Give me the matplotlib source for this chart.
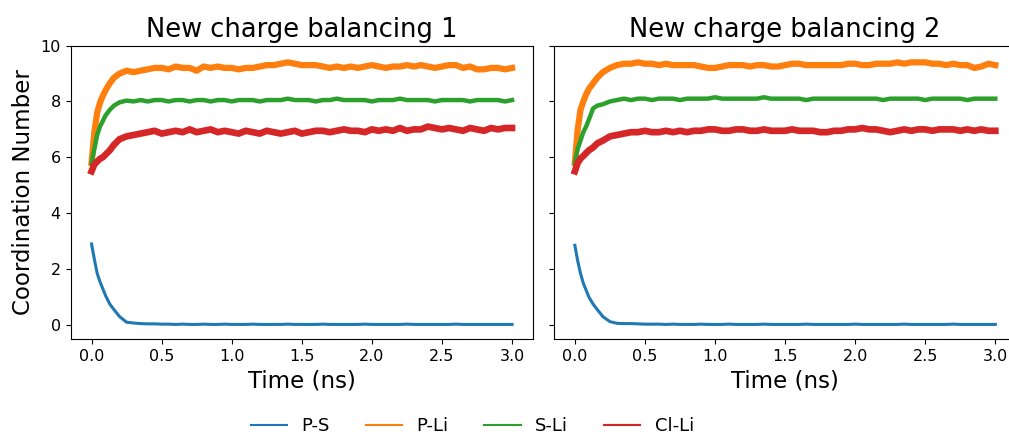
import numpy as np
import matplotlib.pyplot as plt

# time grid (ns): dense at the start, then every 0.05 ns
t_early = [0.0, 0.02, 0.04, 0.06, 0.08, 0.10, 0.13, 0.16, 0.20, 0.25, 0.30]
t_late = np.round(np.arange(0.35, 3.001, 0.05), 2)
time = np.concatenate([t_early, t_late])

labels = ["P-S", "P-Li", "S-Li", "Cl-Li"]
titles = ["New charge balancing 1", "New charge balancing 2"]

# ---- New charge balancing 1 ----
ps_1 = [2.9, 2.35, 1.85, 1.55, 1.3, 1.05, 0.75, 0.55, 0.3, 0.1, 0.07,
        0.05, 0.04, 0.04, 0.03, 0.03, 0.02, 0.03, 0.02, 0.02, 0.03,
        0.02, 0.02, 0.03, 0.02, 0.02, 0.02, 0.03, 0.02, 0.02, 0.02,
        0.02, 0.03, 0.02, 0.02, 0.02, 0.02, 0.03, 0.02, 0.02, 0.02,
        0.02, 0.02, 0.03, 0.02, 0.02, 0.02, 0.02, 0.02, 0.03, 0.02,
        0.02, 0.02, 0.02, 0.02, 0.02, 0.03, 0.02, 0.02, 0.02, 0.02,
        0.02, 0.02, 0.02, 0.02]
pli_1 = [5.8, 6.9, 7.6, 7.95, 8.2, 8.4, 8.65, 8.85, 9.0, 9.1, 9.05,
         9.1, 9.15, 9.2, 9.2, 9.15, 9.25, 9.2, 9.2, 9.1, 9.25,
         9.2, 9.25, 9.2, 9.2, 9.15, 9.2, 9.2, 9.25, 9.3, 9.3,
         9.35, 9.4, 9.35, 9.3, 9.3, 9.3, 9.25, 9.2, 9.25, 9.2,
         9.25, 9.2, 9.25, 9.3, 9.25, 9.2, 9.25, 9.25, 9.3, 9.25,
         9.3, 9.25, 9.2, 9.25, 9.3, 9.3, 9.2, 9.25, 9.15, 9.15,
         9.2, 9.2, 9.15, 9.2]
sli_1 = [5.8, 6.3, 6.8, 7.1, 7.3, 7.5, 7.7, 7.85, 7.97, 8.03, 8.0,
         8.05, 8.0, 8.05, 8.05, 8.0, 8.05, 8.05, 8.0, 8.05, 8.05,
         8.0, 8.05, 8.05, 8.0, 8.05, 8.05, 8.05, 8.0, 8.05, 8.05,
         8.05, 8.1, 8.05, 8.05, 8.05, 8.0, 8.05, 8.05, 8.1, 8.05,
         8.05, 8.05, 8.05, 8.0, 8.05, 8.05, 8.05, 8.1, 8.05, 8.05,
         8.05, 8.05, 8.0, 8.05, 8.05, 8.05, 8.05, 8.0, 8.05, 8.05,
         8.05, 8.05, 8.0, 8.05]
clli_1 = [5.5, 5.75, 5.85, 5.95, 6.0, 6.1, 6.25, 6.45, 6.65, 6.75, 6.8,
          6.85, 6.9, 6.95, 6.85, 6.9, 6.95, 6.9, 7.0, 6.9, 6.95,
          7.0, 6.9, 6.95, 6.9, 6.85, 6.95, 6.9, 6.85, 6.95, 6.9,
          6.85, 6.9, 6.95, 6.85, 6.9, 6.95, 6.95, 6.9, 6.95, 7.0,
          6.95, 6.95, 6.9, 7.0, 6.95, 7.0, 6.95, 7.05, 6.95, 7.0,
          7.0, 7.1, 7.05, 7.0, 7.05, 7.0, 6.95, 7.05, 7.0, 6.95,
          7.05, 7.0, 7.05, 7.05]

# ---- New charge balancing 2 ----
ps_2 = [2.85, 2.3, 1.85, 1.5, 1.25, 1.0, 0.75, 0.55, 0.3, 0.12, 0.06,
        0.05, 0.05, 0.04, 0.03, 0.03, 0.03, 0.02, 0.03, 0.02, 0.02,
        0.02, 0.03, 0.02, 0.02, 0.02, 0.03, 0.02, 0.02, 0.02, 0.02,
        0.03, 0.02, 0.02, 0.02, 0.02, 0.02, 0.03, 0.02, 0.02, 0.02,
        0.02, 0.02, 0.02, 0.03, 0.02, 0.02, 0.02, 0.02, 0.02, 0.02,
        0.03, 0.02, 0.02, 0.02, 0.02, 0.02, 0.02, 0.03, 0.02, 0.02,
        0.02, 0.02, 0.02, 0.02]
pli_2 = [5.8, 7.0, 7.7, 8.0, 8.25, 8.45, 8.65, 8.85, 9.05, 9.2, 9.3,
         9.35, 9.35, 9.4, 9.35, 9.35, 9.3, 9.35, 9.3, 9.3, 9.3,
         9.3, 9.25, 9.2, 9.2, 9.25, 9.3, 9.3, 9.3, 9.25, 9.3,
         9.3, 9.25, 9.25, 9.3, 9.35, 9.35, 9.3, 9.3, 9.3, 9.3,
         9.3, 9.3, 9.35, 9.35, 9.3, 9.3, 9.35, 9.35, 9.35, 9.4,
         9.35, 9.4, 9.4, 9.4, 9.35, 9.35, 9.3, 9.35, 9.3, 9.3,
         9.2, 9.25, 9.35, 9.3]
sli_2 = [5.8, 6.3, 6.6, 6.9, 7.1, 7.35, 7.75, 7.85, 7.9, 8.0, 8.05,
         8.1, 8.05, 8.1, 8.1, 8.05, 8.1, 8.1, 8.1, 8.05, 8.1,
         8.1, 8.1, 8.1, 8.15, 8.1, 8.1, 8.1, 8.1, 8.1, 8.1,
         8.15, 8.1, 8.1, 8.1, 8.1, 8.1, 8.05, 8.1, 8.1, 8.1,
         8.1, 8.1, 8.1, 8.1, 8.1, 8.1, 8.1, 8.05, 8.1, 8.1,
         8.1, 8.1, 8.1, 8.05, 8.1, 8.1, 8.1, 8.1, 8.1, 8.05,
         8.1, 8.1, 8.1, 8.1]
clli_2 = [5.5, 5.8, 5.95, 6.05, 6.15, 6.25, 6.35, 6.5, 6.6, 6.75, 6.8,
          6.85, 6.9, 6.9, 6.95, 6.9, 6.9, 6.95, 6.9, 6.95, 6.9,
          6.95, 6.95, 7.0, 7.0, 6.95, 6.95, 7.0, 7.0, 6.95, 6.95,
          7.0, 6.95, 6.95, 6.95, 7.0, 6.95, 6.95, 6.95, 6.9, 6.9,
          6.95, 6.95, 7.0, 7.0, 7.05, 7.0, 7.0, 6.95, 6.9, 6.95,
          7.0, 6.95, 7.0, 7.0, 6.95, 7.0, 7.0, 7.0, 6.95, 7.0,
          6.95, 7.0, 6.95, 6.95]

panels = [[ps_1, pli_1, sli_1, clli_1], [ps_2, pli_2, sli_2, clli_2]]
colors = ["tab:blue", "tab:orange", "tab:green", "tab:red"]
widths = [2.2, 4.5, 3.2, 4.8]  # thick lines stand in for the MD noise band

fig = plt.figure(figsize=(10.09, 4.34), dpi=100)
ax1 = fig.add_axes([0.0699, 0.219, 0.4584, 0.676])
ax2 = fig.add_axes([0.5489, 0.219, 0.4584, 0.676], sharey=ax1)

for ax, series, title in zip([ax1, ax2], panels, titles):
    for y, c, lw, lab in zip(series, colors, widths, labels):
        ax.plot(time, y, color=c, lw=lw, label=lab)
    ax.set_title(title, fontsize=18.5)
    ax.set_xlabel("Time (ns)", fontsize=16.5)
    ax.set_xticks(np.arange(0, 3.01, 0.5))
    ax.tick_params(labelsize=11.5)

ax1.set_ylim(-0.5, 10)
ax1.set_yticks([0, 2, 4, 6, 8, 10])
ax1.set_ylabel("Coordination Number", fontsize=16.5)
ax2.tick_params(labelleft=False)

handles, labs = ax1.get_legend_handles_labels()
leg = fig.legend(handles, labs, loc="lower center", ncol=4, frameon=False,
                 fontsize=13, bbox_to_anchor=(0.468, -0.04), columnspacing=2.0)
for line in leg.get_lines():
    line.set_linewidth(1.5)

plt.savefig("out.png", dpi=100)
